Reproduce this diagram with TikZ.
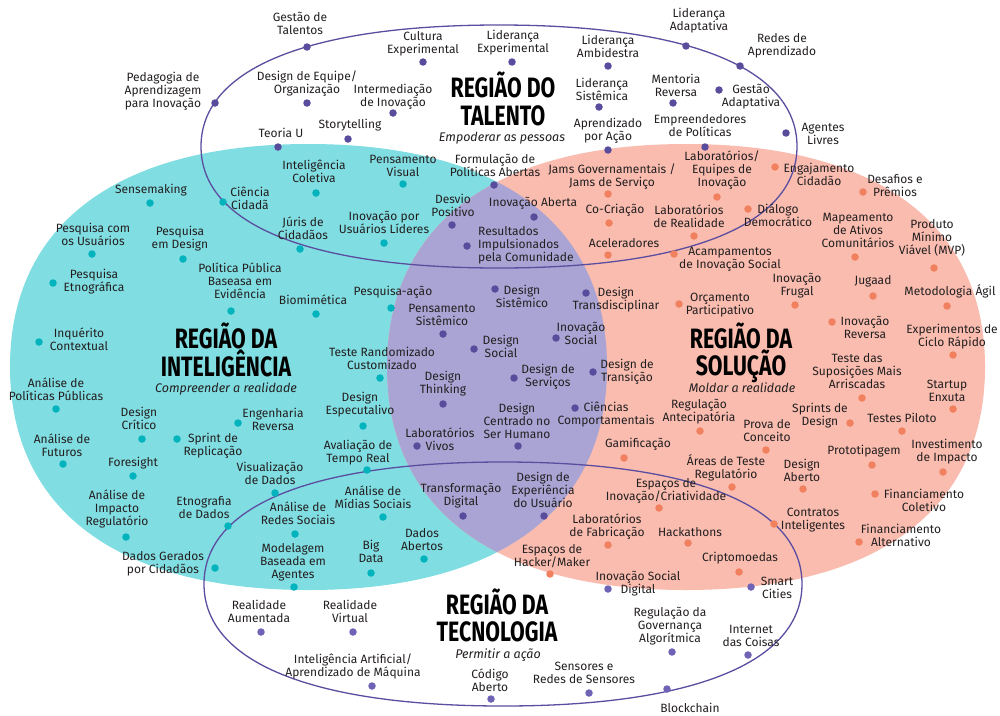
\documentclass[tikz,border=0pt]{standalone}
\usepackage{fontspec}
\setmainfont{Fira Sans}
\newfontfamily\titlefont[FakeStretch=0.76]{Fira Sans}

\definecolor{cyanfill}{HTML}{80DDE1}
\definecolor{orangefill}{HTML}{F9BCAF}
\definecolor{lensfill}{HTML}{A9A4D3}
\definecolor{ringline}{HTML}{5B4D9F}
\definecolor{cyandot}{HTML}{00B3BC}
\definecolor{orangedot}{HTML}{F1805F}
\definecolor{talentdot}{HTML}{5A4C9C}
\definecolor{techdot}{HTML}{6F63B5}
\definecolor{ink}{HTML}{231F20}

% rounded (superellipse-like) closed outline: centre x, centre y, half width, half height, handle factor
\newcommand\superblob[5]{%
  (#1-#3,#2) .. controls +(0,-#5*#4) and +(-#5*#3,0) .. (#1,#2-#4)
  .. controls +(#5*#3,0) and +(0,-#5*#4) .. (#1+#3,#2)
  .. controls +(0,#5*#4) and +(#5*#3,0) .. (#1,#2+#4)
  .. controls +(-#5*#3,0) and +(0,#5*#4) .. (#1-#3,#2) -- cycle}

% one method: dot style, name, dot position, label position, label text
\newcommand\mkspot[5]{%
  \node[#1] (#2) at (#3) {};
  \node[lbl] (#2-l) at (#4) {#5};}

\tikzset{
  lbl/.style={font=\fontsize{12}{13}\selectfont, text=ink, align=center, inner sep=0pt},
  dotbase/.style={circle, minimum size=7.5pt, inner sep=0pt},
  tdot/.style={dotbase, fill=talentdot},
  cdot/.style={dotbase, fill=cyandot},
  pdot/.style={dotbase, fill=talentdot},
  odot/.style={dotbase, fill=orangedot},
  gdot/.style={dotbase, fill=techdot},
  regtitle/.style={font={\titlefont\bfseries\fontsize{28}{28}\selectfont}, text=black, inner sep=0pt, anchor=base},
  regsub/.style={font={\itshape\fontsize{12.5}{14}\selectfont}, text=ink, inner sep=0pt},
  ring/.style={draw=ringline, line width=1.3pt}
}

\begin{document}
\begin{tikzpicture}[x=1pt, y=-1pt]
\useasboundingbox (0,0) rectangle (1000,715);
\fill[white] (0,0) rectangle (1000,715);

% the two large regions and their overlap
\fill[cyanfill] \superblob{308.5}{367}{298.5}{223}{0.64};
\fill[orangefill] \superblob{686}{367}{299}{223}{0.64};
\begin{scope}
  \clip \superblob{308.5}{367}{298.5}{223}{0.64};
  \fill[lensfill] \superblob{686}{367}{299}{223}{0.64};
\end{scope}

% talent and technology outlines
\draw[ring] \superblob{499}{146.5}{298}{121.5}{0.64};
\draw[ring] \superblob{503}{584}{299}{122}{0.64};

% region titles
\node[regtitle] (ttl-a1) at (503,97) {REGIÃO DO};
\node[regtitle] (ttl-a2) at (503,125) {TALENTO};
\node[regsub] (sub-a) at (502,138) {Empoderar as pessoas};

\node[regtitle] (ttl-b1) at (226,348) {REGIÃO DA};
\node[regtitle] (ttl-b2) at (226,376) {INTELIGÊNCIA};
\node[regsub] (sub-b) at (226,389) {Compreender a realidade};

\node[regtitle] (ttl-c1) at (741,348) {REGIÃO DA};
\node[regtitle] (ttl-c2) at (741,375) {SOLUÇÃO};
\node[regsub] (sub-c) at (742,388) {Moldar a realidade};

\node[regtitle] (ttl-d1) at (497,614) {REGIÃO DA};
\node[regtitle] (ttl-d2) at (497,641) {TECNOLOGIA};
\node[regsub] (sub-d) at (498,655) {Permitir a ação};

% talent
\mkspot{tdot}{t1}{307,47}{300,23.5}{Gestão de\\Talentos}
\mkspot{tdot}{t2}{215,103}{163,91}{Pedagogia de\\Aprendizagem\\para Inovação}
\mkspot{tdot}{t3}{307,103}{307,83.5}{Design de Equipe/\\Organização}
\mkspot{tdot}{t4}{278,147}{281,133}{Teoria U}
\mkspot{tdot}{t5}{348,139}{350,125}{Storytelling}
\mkspot{tdot}{t6}{393,113}{393,96.5}{Intermediação\\de Inovação}
\mkspot{tdot}{t7}{423,62}{423,43.5}{Cultura\\Experimental}
\mkspot{tdot}{t8}{512,62}{513,42.5}{Liderança\\Experimental}
\mkspot{tdot}{t9}{608,66}{608,46.5}{Liderança\\Ambidestra}
\mkspot{tdot}{t10}{599,107}{602,89.5}{Liderança\\Sistêmica}
\mkspot{tdot}{t11}{608,150}{608,131}{Aprendizado\\por Ação}
\mkspot{tdot}{t12}{673,103}{676,85.5}{Mentoria\\Reversa}
\mkspot{tdot}{t13}{719,90}{751,96.5}{Gestão\\Adaptativa}
\mkspot{tdot}{t14}{686,46}{699,20.5}{Liderança\\Adaptativa}
\mkspot{tdot}{t15}{740,66}{782,45.5}{Redes de\\Aprendizado}
\mkspot{tdot}{t16}{705,147}{700,126}{Empreendedores\\de Políticas}
\mkspot{tdot}{t17}{786,133}{823,133.5}{Agentes\\Livres}

% intelligence
\mkspot{cdot}{c1}{316,193}{314,171}{Inteligência\\Coletiva}
\mkspot{cdot}{c2}{223,202}{250,198}{Ciência\\Cidadã}
\mkspot{cdot}{c3}{150,203}{151,190}{Sensemaking}
\mkspot{cdot}{c4}{403,184}{403,165.5}{Pensamento\\Visual}
\mkspot{cdot}{c5}{300,249}{303,228}{Júris de\\Cidadãos}
\mkspot{cdot}{c6}{384,243}{384,222.5}{Inovação por\\Usuários Líderes}
\mkspot{cdot}{c7}{92,254}{93,234.5}{Pesquisa com\\os Usuários}
\mkspot{cdot}{c8}{183,259}{180,238.5}{Pesquisa\\em Design}
\mkspot{cdot}{c9}{53,283}{94,281.5}{Pesquisa\\Etnográfica}
\mkspot{cdot}{c10}{231,311}{240,281}{Política Pública\\Baseasa em\\Evidência}
\mkspot{cdot}{c11}{316,314}{313,300}{Biomimética}
\mkspot{cdot}{c12}{39,342}{79,339.5}{Inquérito\\Contextual}
\mkspot{cdot}{c13}{391,308}{393,292}{Pesquisa-ação}
\mkspot{cdot}{c14}{380,378}{382,358}{Teste Randomizado\\Customizado}
\mkspot{cdot}{c15}{56,409}{56,389.5}{Análise de\\Políticas Públicas}
\mkspot{cdot}{c16}{142,439}{139,418}{Design\\Crítico}
\mkspot{cdot}{c17}{177,439}{213,445.5}{Sprint de\\Replicação}
\mkspot{cdot}{c18}{238,423}{273,419.5}{Engenharia\\Reversa}
\mkspot{cdot}{c19}{363,426}{360,404.5}{Design\\Especutalivo}
\mkspot{cdot}{c20}{367,470}{358,452.5}{Avaliação de\\Tempo Real}
\mkspot{cdot}{c21}{63,464}{62,445.5}{Análise de\\Futuros}
\mkspot{cdot}{c22}{133,476}{133,463}{Foresight}
\mkspot{cdot}{c23}{275,493}{270,473.5}{Visualização\\de Dados}
\mkspot{cdot}{c24}{126,537}{117,508.5}{Análise de\\Impacto\\Regulatório}
\mkspot{cdot}{c25}{228,526}{204,508}{Etnografia\\de Dados}
\mkspot{cdot}{c26}{295,534}{298,513}{Análise de\\Redes Sociais}
\mkspot{cdot}{c27}{383,517}{373,497}{Análise de\\Mídias Sociais}
\mkspot{cdot}{c28}{215,568}{163,564}{Dados Gerados\\por Cidadãos}
\mkspot{cdot}{c29}{294,587}{293,562}{Modelagem\\Baseada em\\Agentes}
\mkspot{cdot}{c30}{371,573}{371,551.5}{Big\\Data}
\mkspot{cdot}{c31}{424,559}{422,539.5}{Dados\\Abertos}

% overlap of intelligence and solution
\mkspot{pdot}{p1}{494,185}{495,165}{Formulação de\\Políticas Abertas}
\mkspot{pdot}{p2}{452,225}{453,205.5}{Desvio\\Positivo}
\mkspot{pdot}{p3}{534,217}{533,203}{Inovação Aberta}
\node[pdot] (p4) at (467,246) {};
\node[lbl, align=left, anchor=west] (p4-l) at (478,245) {Resultados\\Impulsionados\\pela Comunidade};
\mkspot{pdot}{p5}{495,289}{522,296}{Design\\Sistêmico}
\mkspot{pdot}{p6}{586,293}{616,299.5}{Design\\Transdisciplinar}
\mkspot{pdot}{p7}{443,334}{442,315}{Pensamento\\Sistêmico}
\mkspot{pdot}{p8}{474,349}{501,346.5}{Design\\Social}
\mkspot{pdot}{p9}{556,338}{581,333}{Inovação\\Social}
\mkspot{pdot}{p10}{514,378}{548,377}{Design de\\Serviços}
\mkspot{pdot}{p11}{593,372}{627,372}{Design de\\Transição}
\mkspot{pdot}{p12}{443,404}{443,384}{Design\\Thinking}
\mkspot{pdot}{p13}{518,446}{517,420.5}{Design\\Centrado no\\Ser Humano}
\mkspot{pdot}{p14}{575,408}{606,415}{Ciências\\Comportamentais}
\mkspot{pdot}{p15}{417,446}{440,439.5}{Laboratórios\\Vivos}
\mkspot{pdot}{p16}{463,516}{461,495.5}{Transformação\\Digital}
\mkspot{pdot}{p17}{544,516}{543,490}{Design de\\Experiência\\do Usuário}

% solution
\mkspot{odot}{s1}{608,194}{612,176.5}{Jams Governamentais /\\Jams de Serviço}
\mkspot{odot}{s2}{717,197}{722,170}{Laboratórios/\\Equipes de\\Inovação}
\mkspot{odot}{s3}{775,167}{819,174}{Engajamento\\Cidadão}
\mkspot{odot}{s4}{863,192}{895,185.5}{Desafios e\\Prêmios}
\mkspot{odot}{s5}{609,223}{615,210}{Co-Criação}
\mkspot{odot}{s6}{694,236}{689,216.5}{Laboratórios\\de Realidade}
\mkspot{odot}{s7}{748,209}{778,215.5}{Diálogo\\Democrático}
\mkspot{odot}{s8}{855,257}{858,230}{Mapeamento\\de Ativos\\Comunitários}
\mkspot{odot}{s9}{934,268}{932,237.5}{Produto\\Mínimo\\Viável (MVP)}
\mkspot{odot}{s10}{608,255}{624,243}{Aceleradores}
\mkspot{odot}{s11}{674,254}{730,259.5}{Acampamentos\\de Inovação Social}
\mkspot{odot}{s12}{795,305}{797,285.5}{Inovação\\Frugal}
\mkspot{odot}{s13}{873,296}{873,281}{Jugaad}
\mkspot{odot}{s14}{947,306}{950,291}{Metodologia Ágil}
\mkspot{odot}{s15}{679,304}{720,305}{Orçamento\\Participativo}
\mkspot{odot}{s16}{832,322}{865,327.5}{Inovação\\Reversa}
\mkspot{odot}{s17}{953,355}{952,336.5}{Experimentos de\\Ciclo Rápido}
\mkspot{odot}{s18}{862,398}{857,371.5}{Teste das\\Suposições Mais\\Arriscadas}
\mkspot{odot}{s19}{953,409}{947,390.5}{Startup\\Enxuta}
\mkspot{odot}{s20}{700,431}{699,411.5}{Regulação\\Antecipatória}
\mkspot{odot}{s21}{850,423}{820,415.5}{Sprints de\\Design}
\mkspot{odot}{s22}{902,431}{902,418}{Testes Piloto}
\mkspot{odot}{s23}{766,450}{767,430.5}{Prova de\\Conceito}
\mkspot{odot}{s24}{624,458}{638,444}{Gamificação}
\mkspot{odot}{s25}{872,465}{864,451}{Prototipagem}
\mkspot{odot}{s26}{943,472}{947,451.5}{Investimento\\de Impacto}
\mkspot{odot}{s27}{732,487}{726,467.5}{Áreas de Teste\\Regulatório}
\mkspot{odot}{s28}{803,489}{802,470}{Design\\Aberto}
\mkspot{odot}{s29}{659,508}{666,490.5}{Espaços de\\Inovação/Criatividade}
\mkspot{odot}{s30}{875,494}{924,500.5}{Financiamento\\Coletivo}
\mkspot{odot}{s31}{774,524}{813,520.5}{Contratos\\Inteligentes}
\mkspot{odot}{s32}{608,545}{607,527}{Laboratórios\\de Fabricação}
\mkspot{odot}{s33}{688,543}{690,532}{Hackathons}
\mkspot{odot}{s34}{859,542}{901,535.5}{Financiamento\\Alternativo}
\mkspot{odot}{s35}{550,574}{552,556.5}{Espaços de\\Hacker/Maker}
\mkspot{odot}{s36}{739,572}{740,558}{Criptomoedas}

% technology
\mkspot{gdot}{g1}{608,589}{638,583.5}{Inovação Social\\Digital}
\mkspot{gdot}{g2}{751,587}{777,588}{Smart\\Cities}
\mkspot{gdot}{g3}{261,632}{259,611.5}{Realidade\\Aumentada}
\mkspot{gdot}{g4}{353,632}{350,611.5}{Realidade\\Virtual}
\mkspot{gdot}{g5}{372,686}{353,666.5}{Inteligência Artificial/\\Aprendizado de Máquina}
\mkspot{gdot}{g6}{491,699}{490,680}{Código\\Aberto}
\mkspot{gdot}{g7}{589,693}{584,672.5}{Sensores e\\Redes de Sensores}
\mkspot{gdot}{g8}{672,652}{670,626}{Regulação da\\Governança\\Algorítmica}
\mkspot{gdot}{g9}{748,655}{751,635.5}{Internet\\das Coisas}
\mkspot{gdot}{g10}{667,689}{690,708}{Blockchain}
\end{tikzpicture}
\end{document}
